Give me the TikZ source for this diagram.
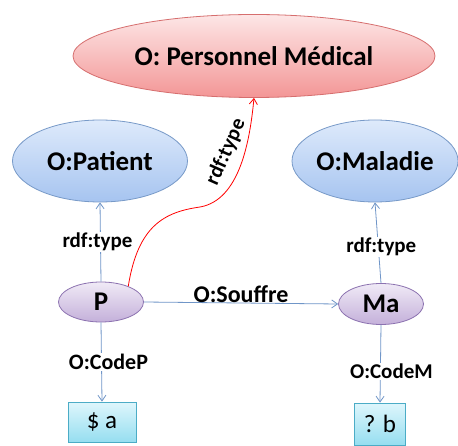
\documentclass[tikz,border=0pt]{standalone}
\usepackage{fontspec}
\setmainfont{Carlito}
\usetikzlibrary{shapes.geometric,arrows.meta}
\definecolor{redfillT}{RGB}{253,230,230}
\definecolor{redfillB}{RGB}{243,150,150}
\definecolor{redline}{RGB}{214,110,110}
\definecolor{bluefillT}{RGB}{222,234,251}
\definecolor{bluefillB}{RGB}{166,196,240}
\definecolor{blueline}{RGB}{120,154,200}
\definecolor{purpT}{RGB}{240,234,246}
\definecolor{purpB}{RGB}{196,176,218}
\definecolor{purpline}{RGB}{140,114,176}
\definecolor{cyanT}{RGB}{222,246,252}
\definecolor{cyanB}{RGB}{150,222,240}
\definecolor{cyanline}{RGB}{75,172,198}
\definecolor{arrowcol}{RGB}{112,150,200}
\tikzset{
  ell/.style={ellipse, inner sep=0pt, font=\bfseries\fontsize{27}{29}\selectfont, line width=0.8pt},
  redell/.style={ell, draw=redline, top color=redfillT, bottom color=redfillB},
  blueell/.style={ell, draw=blueline, top color=bluefillT, bottom color=bluefillB},
  purpell/.style={ell, draw=purpline, top color=purpT, bottom color=purpB},
  litbox/.style={rectangle, inner sep=0pt, draw=cyanline, line width=0.8pt, top color=cyanT, bottom color=cyanB, font=\fontsize{25}{27}\selectfont},
  conn/.style={draw=arrowcol, line width=0.8pt, -{Straight Barb[angle=70:7pt]}},
  redconn/.style={draw=red, line width=0.8pt, -{Straight Barb[angle=70:7pt]}},
  elabel/.style={font=\bfseries\fontsize{21}{23}\selectfont, inner sep=1pt},
}
\begin{document}
\begin{tikzpicture}[x=1pt,y=-1pt]
\useasboundingbox (0,0) rectangle (458,446);
\fill[white] (0,0) rectangle (458,446);
\node[redell, minimum width=362pt, minimum height=83pt] (pm) at (254,56) {O: Personnel Médical};
\node[blueell, minimum width=175pt, minimum height=82pt] (patient) at (100,161) {O:Patient};
\node[blueell, minimum width=166pt, minimum height=82pt] (maladie) at (375,161) {O:Maladie};
\node[purpell, minimum width=85pt, minimum height=40pt] (p) at (101,302) {P};
\node[purpell, minimum width=85pt, minimum height=41pt] (ma) at (381,304) {Ma};
\node[litbox, minimum width=68pt, minimum height=40pt] (a) at (102,422) {\$ a};
\node[litbox, minimum width=51pt, minimum height=42pt] (b) at (380,424) {? b};
\coordinate (mid) at (200,207);
\draw[conn] (p.north) -- (patient.south) node[elabel, pos=0.5, xshift=-3pt, fill=white] (l1) {rdf:type};
\draw[conn] (ma.north) -- (maladie.south) node[elabel, pos=0.45, xshift=3pt, fill=white] (l2) {rdf:type};
\draw[conn] (p.east) -- (ma.west) node[elabel, font=\bfseries\fontsize{24}{26}\selectfont, pos=0.5, above=-1pt] (l3) {O:Souffre};
\draw[conn] (p.south) -- (a.north) node[elabel, font=\bfseries\fontsize{22}{24}\selectfont, pos=0.5, xshift=7pt, fill=white] (l4) {O:CodeP};
\draw[conn] (ma.south) -- (b.north) node[elabel, pos=0.6, xshift=11pt, fill=white] (l5) {O:CodeM};
\draw[redconn] (p.30) .. controls (138,225) and (165,212) .. (mid) .. controls (240,200) and (250,140) .. (pm.south);
\node[elabel, rotate=66] (l6) at (226,152) {rdf:type};
\end{tikzpicture}
\end{document}
